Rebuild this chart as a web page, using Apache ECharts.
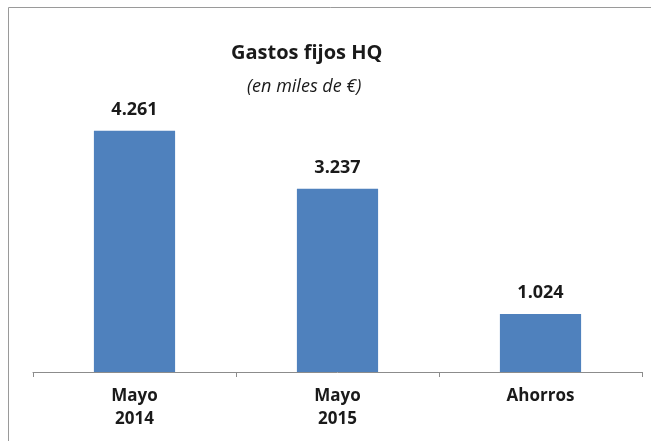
<!DOCTYPE html>
<html>
<head>
<meta charset="utf-8">
<script src="https://cdn.jsdelivr.net/npm/echarts@6/dist/echarts.min.js"></script>
<style>
  html, body { margin: 0; padding: 0; background: #fff; }
  #myChart { width: 651px; height: 441px; }
</style>
</head>
<body>
<div id="myChart"></div>
<script>
// datos del gráfico
var categories = ['Mayo\n2014', 'Mayo\n2015', 'Ahorros'];
var gastos = [4261, 3237, 1024];

var font = '"Open Sans", "Liberation Sans", sans-serif';

function miles(v) {
  return String(v).replace(/\B(?=(\d{3})+(?!\d))/g, '.');
}

var myChart = echarts.init(document.getElementById('myChart'));
myChart.setOption({
  backgroundColor: '#fff',
  animation: false,
  graphic: [{
    type: 'rect',
    shape: { x: 8.5, y: 7.5, width: 700, height: 500 },
    style: { fill: 'none', stroke: '#9a9a9a', lineWidth: 1 }
  }],
  title: [{
    text: 'Gastos fijos HQ',
    left: 226,
    top: 38,
    textStyle: { fontFamily: font, fontSize: 20, fontWeight: 'bold', color: '#1a1a1a' }
  }, {
    text: '(en miles de €)',
    left: 242,
    top: 73,
    textStyle: { fontFamily: font, fontSize: 18, fontStyle: 'italic', fontWeight: 'normal', color: '#1a1a1a' }
  }],
  grid: { left: 33, right: 9, top: 89, bottom: 69 },
  xAxis: {
    type: 'category',
    data: categories,
    axisLine: { lineStyle: { color: '#8c8c8c' } },
    axisTick: { show: true, length: 5, lineStyle: { color: '#8c8c8c' } },
    axisLabel: {
      margin: 13,
      fontFamily: font,
      fontSize: 17,
      fontWeight: 'bold',
      color: '#1a1a1a',
      lineHeight: 23
    }
  },
  yAxis: {
    type: 'value',
    min: 0,
    max: 5000,
    show: false,
    splitLine: { show: false }
  },
  series: [{
    type: 'bar',
    data: gastos,
    barWidth: '40%',
    itemStyle: { color: '#4f81bd' },
    label: {
      show: true,
      position: 'top',
      distance: 12,
      fontFamily: font,
      fontSize: 18,
      fontWeight: 'bold',
      color: '#1a1a1a',
      formatter: function (p) { return miles(p.value); }
    }
  }]
});
</script>
</body>
</html>
